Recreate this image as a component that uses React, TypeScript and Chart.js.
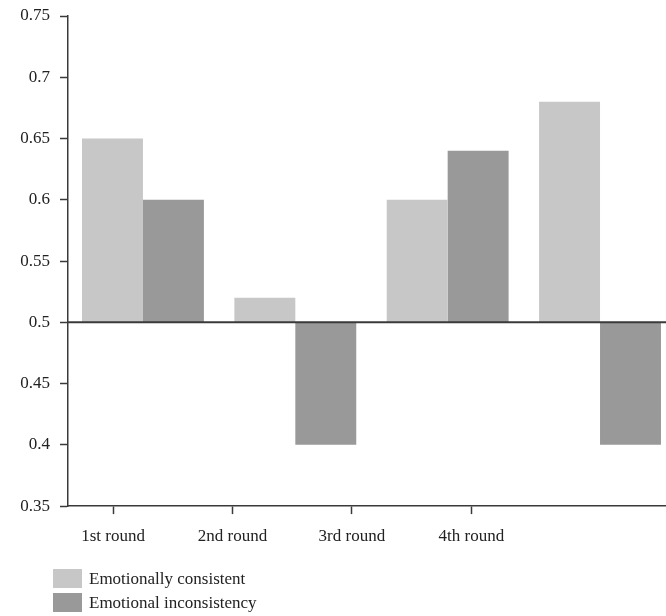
import React, { useEffect, useRef } from "react";
import { Chart, registerables } from "chart.js";

Chart.register(...registerables);

const categories = ["1st round", "2nd round", "3rd round", "4th round"];
const consistent = [0.65, 0.52, 0.6, 0.68];
const inconsistent = [0.6, 0.4, 0.64, 0.4];
const seriesNames = ["Emotionally consistent", "Emotional inconsistency"];
const seriesColors = ["#c6c7c6", "#999999"];
const baseline = 0.5;
const yTickValues = [0.35, 0.4, 0.45, 0.5, 0.55, 0.6, 0.65, 0.7, 0.75];

const FONT = "'Liberation Serif', 'Times New Roman', serif";
const AXIS = "#3a3a3a";

const baselinePlugin = {
  id: "baselineLine",
  afterDatasetsDraw(chart: any) {
    const { ctx, chartArea, scales } = chart;
    const y = scales.y.getPixelForValue(baseline);
    ctx.save();
    ctx.strokeStyle = AXIS;
    ctx.lineWidth = 2;
    ctx.beginPath();
    ctx.moveTo(chartArea.left, y);
    ctx.lineTo(chartArea.right, y);
    ctx.stroke();
    ctx.restore();
  },
};

export default function App() {
  const ref = useRef<HTMLCanvasElement | null>(null);

  useEffect(() => {
    if (!ref.current) return;
    const chart = new Chart(ref.current, {
      type: "bar",
      data: {
        datasets: [
          {
            label: seriesNames[0],
            data: consistent.map((v, i) => ({ x: i, y: [baseline, v] })) as any,
            backgroundColor: seriesColors[0],
            borderWidth: 0,
            xAxisID: "x",
          },
          {
            label: seriesNames[1],
            data: inconsistent.map((v, i) => ({ x: i, y: [baseline, v] })) as any,
            backgroundColor: seriesColors[1],
            borderWidth: 0,
            xAxisID: "x",
          },
        ],
      },
      options: {
        animation: false,
        responsive: false,
        maintainAspectRatio: false,
        layout: { padding: { top: 16, right: 0, bottom: 56.5, left: 0 } },
        datasets: { bar: { categoryPercentage: 0.8, barPercentage: 1.0 } },
        plugins: {
          legend: { display: false },
          tooltip: { enabled: false },
        },
        scales: {
          x: {
            type: "linear",
            display: false,
            offset: false,
            min: -0.492,
            max: 3.433,
            afterBuildTicks: (axis: any) => {
              axis.ticks = categories.map((_, i) => ({ value: i }));
            },
            grid: { offset: false },
          },
          x2: {
            type: "linear",
            position: "bottom",
            offset: false,
            min: -0.377,
            max: 4.63,
            afterBuildTicks: (axis: any) => {
              axis.ticks = categories.map((_, i) => ({ value: i }));
            },
            ticks: {
              autoSkip: false,
              maxRotation: 0,
              padding: 12.5,
              color: "#222",
              font: { family: FONT, size: 17 },
              callback: (v: any) => categories[v] ?? "",
            },
            grid: {
              offset: false,
              drawOnChartArea: false,
              drawTicks: true,
              tickLength: 8,
              tickColor: AXIS,
              tickWidth: 1.5,
            },
            border: { display: true, color: AXIS, width: 1.5 },
          },
          y: {
            type: "linear",
            min: 0.35,
            max: 0.75,
            afterFit: (axis: any) => {
              axis.width = 68;
              axis.paddingTop = 0;
              axis.paddingBottom = 0;
            },
            afterBuildTicks: (axis: any) => {
              axis.ticks = yTickValues.map((v) => ({ value: v }));
            },
            ticks: {
              padding: 10,
              color: "#222",
              font: { family: FONT, size: 17 },
              callback: (v: any) => String(parseFloat(Number(v).toFixed(2))),
            },
            grid: {
              drawOnChartArea: false,
              drawTicks: true,
              tickLength: 8,
              tickColor: AXIS,
              tickWidth: 1.5,
            },
            border: { display: true, color: AXIS, width: 1.5 },
          },
        },
      },
      plugins: [baselinePlugin],
    });
    return () => chart.destroy();
  }, []);

  return (
    <div
      style={{
        position: "absolute",
        left: 0,
        top: 0,
        width: 666,
        height: 616,
        background: "#fff",
        fontFamily: FONT,
      }}
    >
      <canvas ref={ref} width={666} height={616} style={{ display: "block" }} />
      {seriesNames.map((name, i) => (
        <div
          key={name}
          style={{
            position: "absolute",
            left: 53,
            top: 569 + i * 24,
            height: 19,
            display: "flex",
            alignItems: "center",
            fontSize: 17,
            color: "#222",
            whiteSpace: "nowrap",
          }}
        >
          <span
            style={{
              display: "inline-block",
              width: 29,
              height: 19,
              background: seriesColors[i],
              marginRight: 7,
            }}
          />
          <span>{name}</span>
        </div>
      ))}
    </div>
  );
}
